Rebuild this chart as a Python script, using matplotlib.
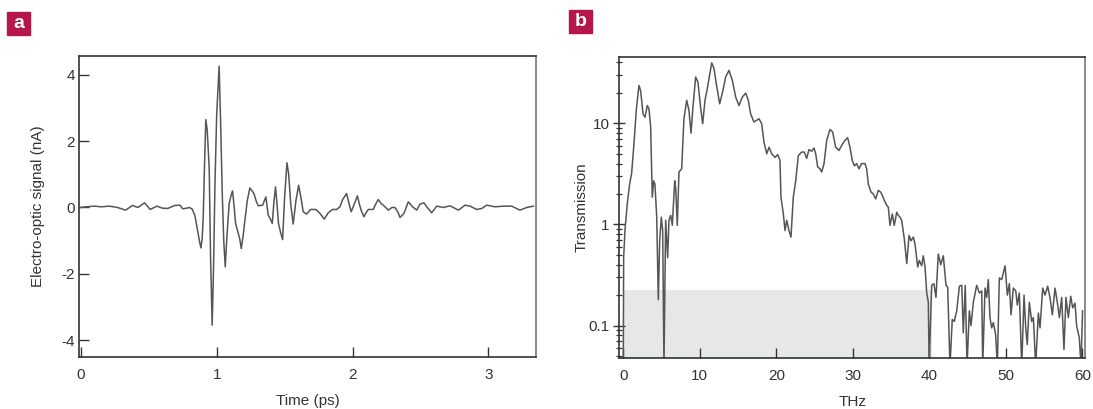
import numpy as np
import matplotlib
matplotlib.use("Agg")
import matplotlib.pyplot as plt
from matplotlib.patches import Rectangle
from matplotlib.ticker import LogLocator, NullFormatter, FixedLocator

plt.rcParams['font.family'] = ['Liberation Sans Narrow', 'Liberation Sans', 'DejaVu Sans']

# Panel a: time-domain electro-optic signal
time_ps = [0.00, 0.04, 0.10, 0.15, 0.21, 0.27, 0.33, 0.38, 0.42, 0.47, 0.51, 0.56, 0.60,
           0.64, 0.69, 0.73, 0.75, 0.78, 0.80, 0.82, 0.84, 0.86, 0.875, 0.884, 0.893, 0.901,
           0.91, 0.920, 0.930, 0.945, 0.955, 0.967, 0.977, 0.987, 1.000, 1.018, 1.030, 1.041,
           1.052, 1.063, 1.075, 1.092, 1.105, 1.117, 1.128, 1.139, 1.159, 1.170, 1.181, 1.195,
           1.208, 1.225, 1.244, 1.274, 1.290, 1.306, 1.338, 1.362, 1.370, 1.379, 1.395, 1.409,
           1.422, 1.433, 1.445, 1.455, 1.470, 1.485, 1.500, 1.517, 1.530, 1.545, 1.563, 1.583,
           1.603, 1.620, 1.637, 1.662, 1.691, 1.730, 1.760, 1.792, 1.821, 1.853, 1.883, 1.907,
           1.927, 1.956, 1.975, 1.990, 2.012, 2.036, 2.050, 2.067, 2.084, 2.100, 2.116, 2.152,
           2.170, 2.189, 2.210, 2.226, 2.263, 2.290, 2.312, 2.335, 2.349, 2.378, 2.410, 2.442,
           2.472, 2.496, 2.526, 2.550, 2.582, 2.619, 2.668, 2.717, 2.779, 2.828, 2.865, 2.914,
           2.951, 2.987, 3.049, 3.110, 3.171, 3.232, 3.282, 3.331]
signal_na = [0.00, 0.02, 0.04, 0.02, 0.04, 0.00, -0.08, 0.06, 0.00, 0.14, -0.06, 0.04, -0.02,
             -0.03, 0.06, 0.07, -0.04, -0.02, 0.00, -0.05, -0.25, -0.70, -1.05, -1.22, -0.95, -0.30,
             1.20, 2.65, 2.35, 1.20, -1.50, -3.55, -1.80, 0.62, 2.80, 4.26, 2.40, 0.42,
             -1.00, -1.79, -0.90, 0.12, 0.35, 0.50, 0.05, -0.48, -0.78, -0.95, -1.24, -0.85,
             -0.38, 0.20, 0.59, 0.42, 0.20, 0.05, 0.07, 0.32, 0.05, -0.23, -0.35, -0.48,
             0.20, 0.62, 0.05, -0.48, -0.75, -0.97, 0.30, 1.35, 1.00, 0.10, -0.50, 0.20,
             0.67, 0.30, -0.13, -0.20, -0.06, -0.06, -0.18, -0.35, -0.16, -0.06, -0.06, 0.02,
             0.24, 0.42, 0.10, -0.13, 0.10, 0.35, 0.10, -0.13, -0.28, -0.15, -0.06, -0.06,
             0.10, 0.24, 0.12, 0.07, -0.08, 0.00, 0.00, -0.15, -0.30, -0.18, 0.17, 0.02,
             -0.08, 0.10, 0.14, 0.00, -0.16, 0.04, 0.00, 0.05, -0.08, 0.07, 0.04, -0.06,
             -0.03, 0.07, 0.02, 0.04, 0.04, -0.08, 0.00, 0.04]

# Panel b: transmission spectrum (0.04 = dips running off the bottom of the axis)
freq_thz = [0.00, 0.05, 0.22, 0.52, 0.83, 1.09, 1.40, 1.70, 2.05, 2.27, 2.58, 2.84, 3.14, 3.36,
            3.58, 3.79, 3.97, 4.14, 4.37, 4.58, 4.76, 4.97, 5.15, 5.32, 5.54, 5.80, 5.97, 6.20,
            6.41, 6.72, 6.85, 7.06, 7.28, 7.63, 7.93, 8.29, 8.59, 8.85, 9.11, 9.46, 9.76, 10.10,
            10.38, 10.68, 10.98, 11.56, 11.86, 12.16, 12.60, 13.03, 13.38, 13.82, 14.25, 14.69,
            15.12, 15.56, 16.00, 16.34, 16.65, 17.08, 17.74, 18.09, 18.39, 18.75, 19.05, 19.40,
            19.83, 20.18, 20.48, 20.61, 20.92, 21.14, 21.36, 21.66, 21.92, 22.22, 22.54, 22.88,
            23.32, 23.66, 23.97, 24.27, 24.63, 24.93, 25.15, 25.41, 25.71, 25.93, 26.24, 26.59,
            27.02, 27.37, 27.76, 28.20, 28.63, 28.98, 29.33, 29.63, 29.93, 30.20, 30.50, 30.80,
            31.16, 31.59, 31.81, 32.03, 32.38, 32.68, 32.99, 33.33, 33.64, 33.86, 34.12, 34.44,
            34.64, 34.86, 35.16, 35.42, 35.74, 35.95, 36.17, 36.39, 36.73, 37.05, 37.35, 37.61,
            37.91, 38.13, 38.48, 38.69, 39.00, 39.21, 39.44, 39.66, 39.87, 39.98, 40.31, 40.60,
            40.87, 41.17, 41.49, 41.83, 42.18, 42.40, 42.70, 43.00, 43.27, 43.58, 43.93, 44.24,
            44.44, 44.70, 44.93, 45.23, 45.45, 45.75, 46.19, 46.54, 46.85, 46.98, 47.28, 47.50,
            47.71, 47.93, 48.15, 48.37, 48.67, 48.89, 49.15, 49.46, 49.90, 50.20, 50.46, 50.68,
            50.98, 51.30, 51.50, 51.76, 52.08, 52.38, 52.60, 52.80, 53.07, 53.38, 53.60, 53.90,
            54.25, 54.47, 54.82, 55.12, 55.47, 55.77, 56.08, 56.43, 56.73, 57.00, 57.30, 57.60,
            57.86, 58.17, 58.48, 58.74, 59.04, 59.25, 59.60, 59.82, 60.03]
transmission = [0.04, 0.47, 0.87, 1.6, 2.5, 3.2, 6.3, 13.5, 23.7, 21.0, 12.4, 11.5, 15.0, 13.9,
                9.2, 1.86, 2.7, 2.5, 1.18, 0.18, 0.69, 1.18, 0.87, 0.04, 1.1, 0.47, 1.1, 1.23,
                0.98, 2.7, 2.3, 0.98, 3.3, 3.55, 11.1, 16.9, 13.4, 8.0, 14.5, 28.7, 25.6, 14.5,
                9.9, 16.9, 22.0, 39.6, 34.7, 24.6, 15.6, 21.2, 28.7, 33.4, 26.7, 18.2,
                15.0, 18.2, 19.9, 16.9, 12.4, 10.3, 11.1, 9.9, 6.5, 5.0, 5.8, 5.0,
                4.6, 4.9, 4.3, 1.86, 1.27, 0.87, 1.1, 0.87, 0.75, 1.86, 2.7, 4.8,
                5.2, 5.2, 4.5, 5.5, 5.3, 5.7, 5.0, 3.7, 3.55, 3.3, 4.0, 6.8,
                8.7, 8.2, 5.8, 5.4, 6.2, 6.8, 7.2, 5.8, 4.3, 3.8, 4.0, 3.55,
                4.0, 4.0, 3.55, 2.5, 2.09, 2.0, 1.79, 2.17, 2.09, 1.94, 1.73, 1.54,
                1.48, 0.98, 1.27, 0.98, 1.32, 1.23, 1.18, 1.1, 0.72, 0.41, 0.78, 0.69,
                0.75, 0.64, 0.38, 0.44, 0.39, 0.49, 0.38, 0.21, 0.17, 0.04, 0.25, 0.26,
                0.19, 0.51, 0.40, 0.49, 0.25, 0.24, 0.04, 0.115, 0.11, 0.14, 0.245, 0.25,
                0.085, 0.25, 0.04, 0.14, 0.10, 0.17, 0.25, 0.21, 0.22, 0.04, 0.235, 0.19,
                0.285, 0.12, 0.095, 0.107, 0.081, 0.04, 0.296, 0.285, 0.39, 0.20, 0.26, 0.128,
                0.235, 0.22, 0.16, 0.21, 0.04, 0.20, 0.095, 0.065, 0.17, 0.11, 0.12, 0.04,
                0.133, 0.095, 0.235, 0.20, 0.245, 0.19, 0.128, 0.235, 0.17, 0.12, 0.19, 0.058,
                0.19, 0.12, 0.195, 0.15, 0.167, 0.10, 0.076, 0.04, 0.14]

shade_freq = [0, 40.4]
shade_top = 0.225

line_col = '#555555'
axis_col = '#333333'

fig = plt.figure(figsize=(10.93, 4.09), dpi=100)
ax_a = fig.add_axes([0.0723, 0.1264, 0.4181, 0.7367])
ax_b = fig.add_axes([0.5666, 0.1240, 0.4261, 0.7374])

# ---- panel a
ax_a.plot(time_ps, signal_na, color=line_col, lw=1.1)
ax_a.set_xlim(-0.013, 3.35)
ax_a.set_ylim(-4.52, 4.57)
ax_a.set_xticks([0, 1, 2, 3])
ax_a.set_yticks([-4, -2, 0, 2, 4])
ax_a.set_yticklabels(['-4', '-2', '0', '2', '4'])
ax_a.tick_params(axis='x', direction='in', length=7, width=1, colors=axis_col,
                 labelsize=11, pad=8)
ax_a.tick_params(axis='y', direction='in', length=7, width=1, colors=axis_col,
                 labelsize=11, pad=3)
ax_a.set_xlabel('Time (ps)', fontsize=11, color=axis_col, labelpad=8)
ax_a.set_ylabel('Electro-optic signal (nA)', fontsize=11, color=axis_col, labelpad=12)

# ---- panel b
ax_b.fill_between(shade_freq, 0.01, shade_top, color='#e6e7e8', lw=0, zorder=0)
ax_b.plot(freq_thz, transmission, color=line_col, lw=1.1)
ax_b.set_yscale('log')
ax_b.set_xlim(-0.52, 60.35)
ax_b.set_ylim(0.0475, 45.6)
ax_b.set_xticks([0, 10, 20, 30, 40, 50, 60])
ax_b.yaxis.set_major_locator(FixedLocator([0.1, 1, 10]))
ax_b.set_yticklabels(['0.1', '1', '10'])
ax_b.yaxis.set_minor_locator(LogLocator(base=10, subs=np.arange(2, 10)))
ax_b.yaxis.set_minor_formatter(NullFormatter())
ax_b.tick_params(axis='x', direction='in', length=7, width=1, colors=axis_col,
                 labelsize=11, pad=8)
ax_b.tick_params(axis='y', which='major', direction='inout', length=8, width=1,
                 colors=axis_col, labelsize=11, pad=3)
ax_b.tick_params(axis='y', which='minor', direction='inout', length=5, width=0.9,
                 colors=axis_col)
ax_b.set_xlabel('THz', fontsize=11, color=axis_col, labelpad=8)
ax_b.set_ylabel('Transmission', fontsize=11, color=axis_col, labelpad=0)

for ax in (ax_a, ax_b):
    for side in ['left', 'bottom', 'top']:
        ax.spines[side].set_color(axis_col)
        ax.spines[side].set_linewidth(1.2)
    ax.spines['right'].set_color('#777777')
    ax.spines['right'].set_linewidth(1.2)

# panel letters
W, H = 1093, 409
for label, x0, y0 in [('a', 7, 12), ('b', 569, 10)]:
    fig.patches.append(Rectangle((x0 / W, 1 - (y0 + 23) / H), 23 / W, 23 / H,
                                 transform=fig.transFigure, color='#b5174b'))
    fig.text((x0 + 11.5) / W, 1 - (y0 + 12) / H, label, color='white', fontsize=14,
             fontweight='bold', ha='center', va='center')

fig.savefig('out.png', dpi=100)
